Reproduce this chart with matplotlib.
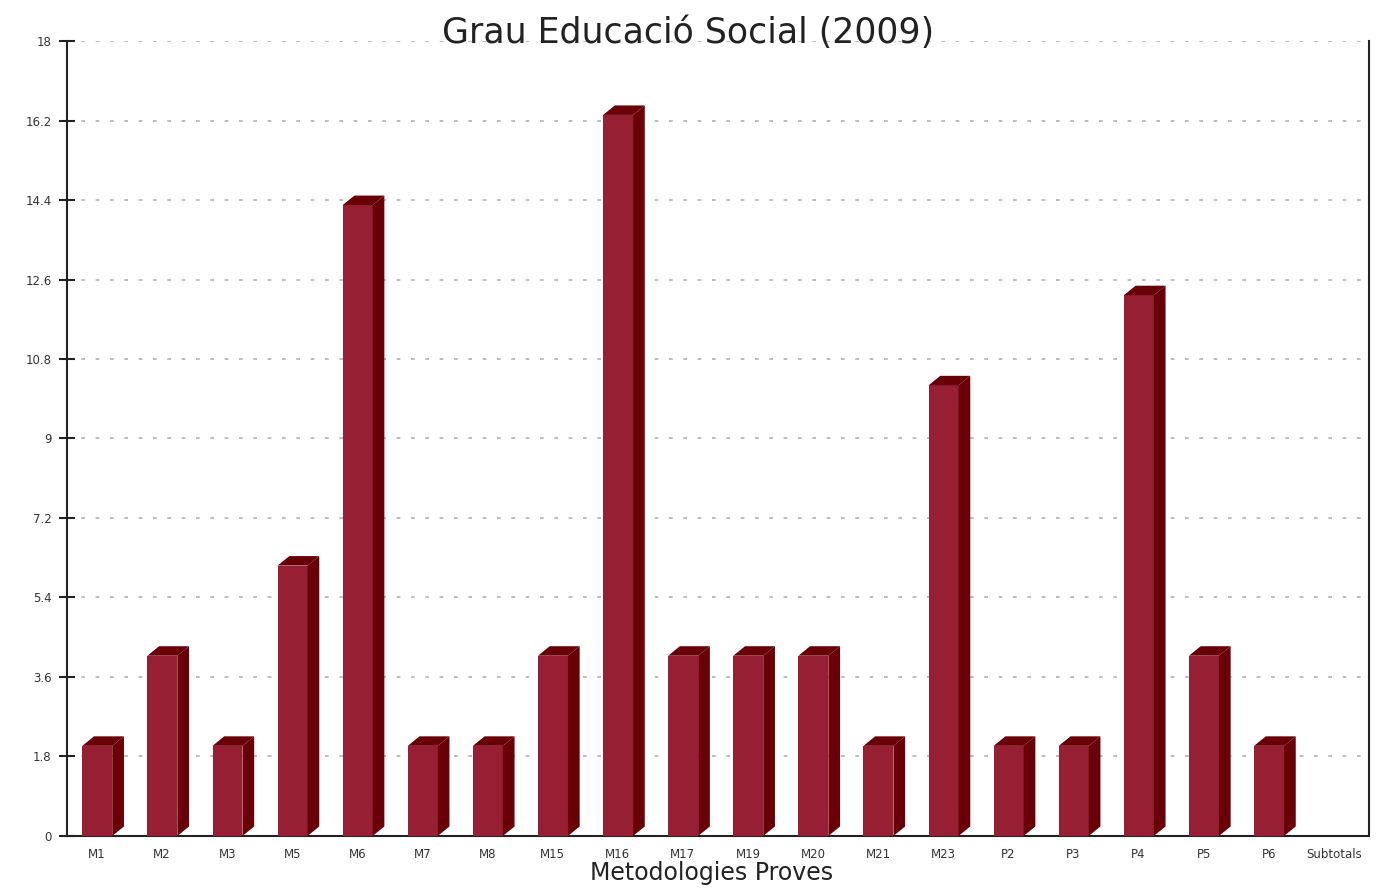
"""
Bar chart of methodology counts, Grau Educacio Social 2009
"""

import matplotlib
matplotlib.use("Agg")
import matplotlib.pyplot as plt
from matplotlib.patches import Polygon
from matplotlib.ticker import FuncFormatter
import numpy as np

# categories and percentages (count / 49 total)
categories = ["M1", "M2", "M3", "M5", "M6", "M7", "M8", "M15", "M16", "M17",
              "M19", "M20", "M21", "M23", "P2", "P3", "P4", "P5", "P6", "Subtotals"]
counts = [1, 2, 1, 3, 7, 1, 1, 2, 8, 2, 2, 2, 1, 5, 1, 1, 6, 2, 1]
total = 49
values = [c * 100.0 / total for c in counts]
y_ticks = [0, 1.8, 3.6, 5.4, 7.2, 9, 10.8, 12.6, 14.4, 16.2, 18]

front_color = "#971f33"
dark_color = "#690007"

fig = plt.figure(figsize=(13.76, 8.88), dpi=100)
ax = fig.add_axes([0.0487, 0.0586, 0.9462, 0.8952])

ax.set_xlim(0, len(categories))
ax.set_ylim(0, 18)

# front faces
x_left = np.arange(len(values)) + 0.235
width = 0.46
ax.bar(x_left, values, width=width, align="edge", color=front_color,
       edgecolor="none", zorder=3)

# fake 3d: side and top faces
dx, dy = 0.18, 0.215
for x0, v in zip(x_left, values):
    x1 = x0 + width
    side = Polygon([(x1, 0), (x1 + dx, dy), (x1 + dx, v + dy), (x1, v)],
                   closed=True, facecolor=dark_color, edgecolor="none", zorder=3)
    top = Polygon([(x0, v), (x0 + dx, v + dy), (x1 + dx, v + dy), (x1, v)],
                  closed=True, facecolor=dark_color, edgecolor="none", zorder=3)
    ax.add_patch(side)
    ax.add_patch(top)

# axes styling
ax.set_yticks(y_ticks)
ax.yaxis.set_major_formatter(FuncFormatter(lambda v, p: f"{v:g}"))
ax.tick_params(axis="y", direction="inout", length=12, width=1.5,
               color="#222222", labelsize=8.5, labelcolor="#333333", pad=5)
ax.set_xticks(np.arange(len(categories)) + 0.46)
ax.set_xticklabels(categories)
ax.tick_params(axis="x", length=0, labelsize=8.5, labelcolor="#333333", pad=9)

for side_name in ["left", "bottom", "right"]:
    ax.spines[side_name].set_color("#222222")
    ax.spines[side_name].set_linewidth(1.5)
ax.spines["top"].set_visible(False)

ax.yaxis.grid(True, color="#b0b0b0", linestyle=(0, (2.2, 6.4)), linewidth=1.2)
ax.set_axisbelow(True)

fig.text(0.5, 0.963, "Grau Educació Social (2009)", ha="center", va="center",
         fontsize=25, color="#222222")
fig.text(0.517, 0.017, "Metodologies Proves", ha="center", va="center",
         fontsize=17, color="#222222")

plt.savefig("out.png", dpi=100)
